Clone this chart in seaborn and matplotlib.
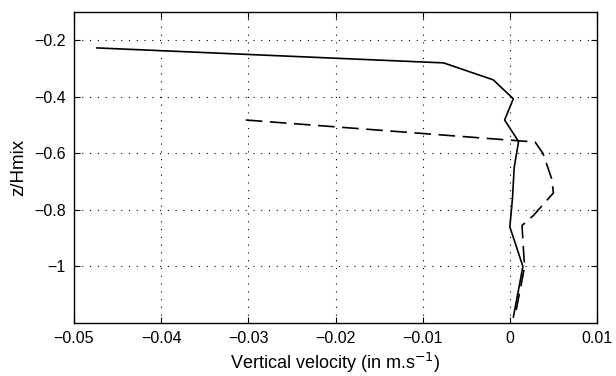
import matplotlib
matplotlib.use("Agg")
import matplotlib.pyplot as plt
import seaborn as sns
import pandas as pd

# Solid profile
solid_w = [-0.0474, -0.0076, -0.0019, 0.0004, -0.0006, 0.0010, 0.0005, 0.0003, 0.0000, 0.0015, 0.0004]
solid_z = [-0.227, -0.280, -0.340, -0.407, -0.482, -0.558, -0.650, -0.760, -0.860, -1.000, -1.180]

# Dashed profile
dashed_w = [-0.0303, 0.0029, 0.0038, 0.0048, 0.0050, 0.0027, 0.0014, 0.0016, 0.0017, 0.0006]
dashed_z = [-0.482, -0.560, -0.600, -0.690, -0.740, -0.820, -0.855, -0.960, -1.000, -1.175]

xticks = [-0.05, -0.04, -0.03, -0.02, -0.01, 0, 0.01]
xtick_labels = ["\u22120.05", "\u22120.04", "\u22120.03", "\u22120.02", "\u22120.01", "0", "0.01"]
yticks = [-1, -0.8, -0.6, -0.4, -0.2]
ytick_labels = ["\u22121", "\u22120.8", "\u22120.6", "\u22120.4", "\u22120.2"]

sns.set_style("white")
plt.rcParams["font.family"] = ["Liberation Sans", "DejaVu Sans"]
plt.rcParams["axes.unicode_minus"] = True

fig = plt.figure(figsize=(6.16, 3.76), dpi=100)
ax = fig.add_axes([74/616, 1 - 323/376, (597 - 74)/616, (323 - 12)/376])

df_s = pd.DataFrame({"w": solid_w, "z": solid_z})
df_d = pd.DataFrame({"w": dashed_w, "z": dashed_z})
sns.lineplot(data=df_s, x="w", y="z", sort=False, estimator=None, color="black", lw=1.2, ax=ax)
sns.lineplot(data=df_d, x="w", y="z", sort=False, estimator=None, color="black", lw=1.2, ax=ax,
             linestyle=(0, (10, 4.5)))

ax.set_xlim(-0.05, 0.01)
ax.set_ylim(-1.2, -0.1)
ax.set_xticks(xticks)
ax.set_xticklabels(xtick_labels)
ax.set_yticks(yticks)
ax.set_yticklabels(ytick_labels)
ax.grid(True, linestyle=(0, (1, 6)), color="black", linewidth=0.8)
for s in ax.spines.values():
    s.set_color("black")
    s.set_linewidth(1.0)
ax.tick_params(direction="in", length=4, width=0.8, top=True, right=True, bottom=True, left=True,
               labelsize=11.5, colors="black", pad=6)
ax.set_xlabel("Vertical velocity (in m.s$^{-1}$)", fontsize=13, color="black", labelpad=3)
ax.set_ylabel("z/Hmix", fontsize=13.5, color="black", labelpad=5)

fig.savefig("out.png", dpi=100)
